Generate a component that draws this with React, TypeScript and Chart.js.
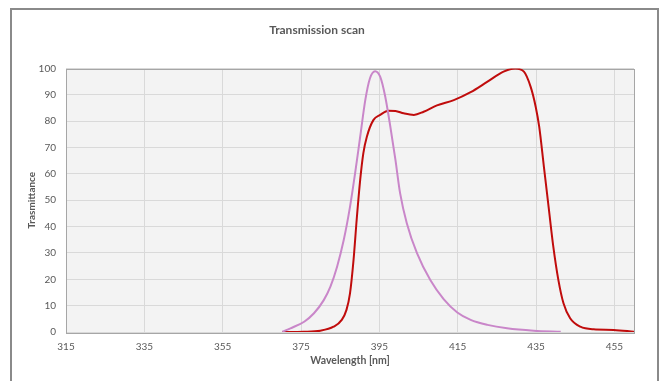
import React, { useEffect, useRef } from "react";
import { Chart, registerables } from "chart.js";

Chart.register(...registerables);

const TITLE = "Transmission scan";
const X_TITLE = "Wavelength [nm]";
const Y_TITLE = "Trasmittance";

const X_TICKS = [315, 335, 355, 375, 395, 415, 435, 455];
const Y_TICKS = [0, 10, 20, 30, 40, 50, 60, 70, 80, 90, 100];

const PINK_NM = [370.2, 372.3, 375.8, 378.3, 380.8, 382.5, 384.2, 385.9, 387.5, 388.8, 390.1, 391.4, 392.6, 393.9, 395.2, 396.5, 397.8, 399.1, 400.3, 402.0, 404.6, 408.0, 411.4, 414.9, 418.3, 422.6, 427.6, 434.4, 441.3];
const PINK_T = [0.1, 1.4, 3.9, 7.1, 12.1, 17.2, 24.8, 34.9, 47.5, 60.2, 74.1, 88, 96.3, 99, 96.9, 89.3, 77.9, 65.3, 52.6, 41.3, 29.9, 19.7, 12.5, 7.4, 4.6, 2.7, 1.4, 0.5, 0.1];

const RED_NM = [370.2, 375.7, 379.9, 383.3, 385.4, 386.6, 387.5, 388.4, 389.2, 390.1, 390.9, 391.8, 393.5, 395.2, 397.3, 399.1, 401.2, 403.8, 406.3, 409.7, 414.0, 418.3, 422.6, 426.7, 429.7, 431.9, 433.6, 434.9, 435.8, 437.0, 438.2, 439.4, 440.7, 442.0, 443.7, 446.3, 449.7, 454.8, 460];
const RED_T = [0, 0.1, 0.5, 2, 4.6, 8.4, 14.7, 27.3, 42.5, 57.7, 67.8, 74.1, 80.5, 82.4, 84, 83.9, 83, 82.4, 83.6, 86, 88, 91, 95, 98.8, 100, 98.8, 93.1, 85.5, 77.9, 62.7, 47.5, 32.4, 19.7, 10.9, 5.2, 2, 1, 0.8, 0.1];

const toPoints = (xs: number[], ys: number[]) => xs.map((x, i) => ({ x, y: ys[i] }));

export default function App() {
  const ref = useRef<HTMLCanvasElement>(null);

  useEffect(() => {
    if (!ref.current) return;
    const plotBg = {
      id: "plotBg",
      beforeDraw(chart: any) {
        const { ctx, chartArea } = chart;
        const { left, top, right, bottom } = chartArea;
        ctx.save();
        ctx.fillStyle = "#f3f3f3";
        ctx.fillRect(left, top, right - left, bottom - top);
        ctx.restore();
      },
      beforeDatasetsDraw(chart: any) {
        const { ctx, chartArea } = chart;
        const { left, top, right, bottom } = chartArea;
        ctx.save();
        ctx.strokeStyle = "#a6a6a6";
        ctx.lineWidth = 1;
        ctx.strokeRect(Math.round(left) + 0.5, Math.round(top) + 0.5, Math.round(right - left), Math.round(bottom - top));
        ctx.restore();
      },
    };

    const tickFont = { family: "Lato", size: 10 };
    const chart = new Chart(ref.current, {
      type: "scatter",
      data: {
        datasets: [
          {
            label: "pink",
            data: toPoints(PINK_NM, PINK_T),
            showLine: true,
            borderColor: "#c986c9",
            borderWidth: 2,
            pointRadius: 0,
            cubicInterpolationMode: "monotone",
          },
          {
            label: "red",
            data: toPoints(RED_NM, RED_T),
            showLine: true,
            borderColor: "#c00c0c",
            borderWidth: 2,
            pointRadius: 0,
            cubicInterpolationMode: "monotone",
          },
        ],
      },
      options: {
        animation: false,
        responsive: false,
        layout: { padding: { left: 0, right: 27, top: 0, bottom: 0 } },
        plugins: {
          legend: { display: false },
          tooltip: { enabled: false },
          title: {
            display: true,
            text: TITLE,
            color: "#595959",
            font: { family: "Lato", size: 12, weight: "bold" },
            padding: { top: 22.8, bottom: 31.3 },
          },
        },
        scales: {
          x: {
            type: "linear",
            min: 315,
            max: 460,
            afterBuildTicks: (s: any) => {
              s.ticks = X_TICKS.map((v) => ({ value: v }));
            },
            afterFit: (s: any) => {
              s.height = 49;
            },
            grid: { color: "#d9d9d9", drawTicks: false },
            border: { display: false },
            ticks: { color: "#595959", font: tickFont, padding: 9, maxRotation: 0, autoSkip: false },
            title: {
              display: true,
              text: X_TITLE,
              color: "#595959",
              font: { family: "Lato", size: 10.5, weight: "bold" },
              padding: { top: 0, bottom: 13.7 },
            },
          },
          y: {
            type: "linear",
            min: 0,
            max: 100,
            afterBuildTicks: (s: any) => {
              s.ticks = Y_TICKS.map((v) => ({ value: v }));
            },
            afterFit: (s: any) => {
              s.width = 66;
            },
            grid: { color: "#d9d9d9", drawTicks: false },
            border: { display: false },
            ticks: { color: "#595959", font: tickFont, padding: 10 },
            title: {
              display: true,
              text: Y_TITLE,
              color: "#595959",
              font: { family: "Lato", size: 10, weight: "bold" },
              padding: { top: 26, bottom: 0 },
            },
          },
        },
      } as any,
      plugins: [plotBg],
    });
    return () => chart.destroy();
  }, []);

  return (
    <div style={{ position: "fixed", left: 0, top: 0, width: 661, height: 381, overflow: "hidden", background: "#fff" }}>
      <div
        style={{
          position: "absolute",
          left: 10,
          top: 8,
          width: 649,
          height: 420,
          border: "2px solid #8a8a8a",
          boxSizing: "border-box",
        }}
      />
      <canvas ref={ref} width={661} height={381} style={{ position: "absolute", left: 0, top: 0, width: 661, height: 381 }} />
    </div>
  );
}
